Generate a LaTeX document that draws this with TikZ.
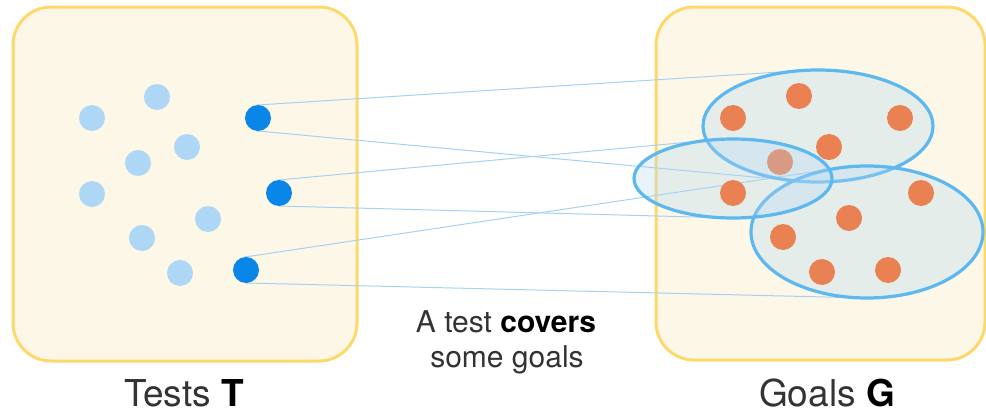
\documentclass[tikz,border=0pt]{standalone}
\usepackage{fontspec}
\setmainfont{TeX Gyre Heros}
\usetikzlibrary{shapes.geometric}

\definecolor{panelfill}{HTML}{FCF7E7}
\definecolor{panelline}{HTML}{FDD96C}
\definecolor{testlight}{HTML}{AED6F5}
\definecolor{testdark}{HTML}{0A86E8}
\definecolor{goalorange}{HTML}{E98152}
\definecolor{setline}{HTML}{5DB8F0}
\definecolor{setfill}{HTML}{B2D7F5}
\definecolor{linkline}{HTML}{A5D2F2}
\definecolor{textgray}{HTML}{333333}

\pgfdeclarelayer{panels}
\pgfdeclarelayer{links}
\pgfsetlayers{panels,links,main}

\tikzset{
  panel/.style={draw=panelline, fill=panelfill, line width=3pt,
    rounded corners=38pt, inner sep=0pt, outer sep=0pt},
  testdot/.style={circle, fill=testlight, minimum size=26pt, inner sep=0pt, outer sep=0pt},
  chosendot/.style={circle, fill=testdark, minimum size=26pt, inner sep=0pt, outer sep=0pt},
  goaldot/.style={circle, fill=goalorange, minimum size=26pt, inner sep=0pt, outer sep=0pt},
  goalset/.style={ellipse, draw=setline, line width=3.2pt, fill=setfill,
    fill opacity=0.3, draw opacity=1, inner sep=0pt, outer sep=0pt},
  link/.style={draw=linkline, line width=1pt},
  caption/.style={font=\fontsize{37}{44}\selectfont, text=textgray, anchor=base,
    inner sep=0pt, text depth=0pt},
  remark/.style={font=\fontsize{30}{35}\selectfont, text=textgray, anchor=base,
    inner sep=0pt}
}

\begin{document}
\begin{tikzpicture}[x=1pt, y=-1pt]
\useasboundingbox (0,0) rectangle (986,415);

% the two sets
\begin{pgfonlayer}{panels}
\node[panel, minimum width=344pt, minimum height=354pt] (tests) at (185,184) {};
\node[panel, minimum width=329pt, minimum height=353pt] (goals) at (820.5,183.5) {};
\end{pgfonlayer}

% tests
\foreach \n/\x/\y in {1/92/118, 2/157/97, 3/187/147, 4/138/163,
                      5/92/194, 6/208/219, 7/142/238, 8/180/273}
  \node[testdot] (t\n) at (\x,\y) {};
\node[chosendot] (d1) at (258,118) {};
\node[chosendot] (d2) at (279,193) {};
\node[chosendot] (d3) at (246,270) {};

% goal sets covered by the chosen tests
\node[goalset, minimum width=230pt, minimum height=112pt] (e1) at (818,126) {};
\node[goalset, minimum width=232pt, minimum height=132pt] (e3) at (867,232) {};
\node[goaldot] (g0) at (780,162) {};
\node[goalset, minimum width=198pt, minimum height=79pt] (e2) at (733,178.5) {};

% tangent links from each chosen test to the set it covers
\begin{pgfonlayer}{links}
\draw[link] (d1.95)  -- (e1.110);
\draw[link] (d1.263) -- (e1.244);
\draw[link] (d2.97)  -- (e2.128);
\draw[link] (d2.267) -- (e2.251);
\draw[link] (d3.100) -- (e3.118);
\draw[link] (d3.267) -- (e3.262);
\end{pgfonlayer}

% goals
\foreach \n/\x/\y in {1/799/96, 2/733/118, 3/900/118, 4/829/147, 5/733/193,
                      6/921/193, 7/849/218, 8/783/237, 9/822/272, 10/888/270}
  \node[goaldot] (g\n) at (\x,\y) {};

% texts
\node[caption] (tcap) at (184,406) {Tests \textbf{\color{black}T}};
\node[caption] (gcap) at (827,406) {Goals \textbf{\color{black}G}};
\node[remark] (rem1) at (506,332) {A test \textbf{\color{black}covers}};
\node[remark] (rem2) at (507,367) {some goals};
\end{tikzpicture}
\end{document}
